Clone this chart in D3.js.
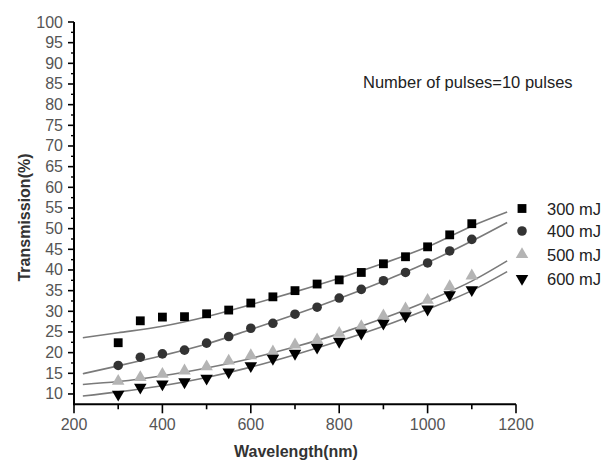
<!DOCTYPE html>
<html><head><meta charset="utf-8">
<script src="https://cdn.jsdelivr.net/npm/d3@7"></script>
<style>body{margin:0;background:#fff}svg{display:block;font-family:Arial,"Liberation Sans",sans-serif}</style>
</head><body><svg id="c" width="603" height="462"></svg>
<script>
// ---- data ----
const wavelengths = [300,350,400,450,500,550,600,650,700,750,800,850,900,950,1000,1050,1100];
const t300 = [22.4,27.7,28.6,28.7,29.4,30.3,32.0,33.5,35.0,36.6,37.6,39.4,41.5,43.2,45.6,48.5,51.2];
const t400 = [16.9,18.9,19.7,20.6,22.3,23.9,25.9,27.1,29.3,31.0,33.2,35.3,37.4,39.4,41.7,44.6,47.4];
const t500 = [13.1,14.0,14.8,15.6,16.6,18.0,19.3,20.2,21.9,23.1,24.7,26.3,28.9,30.6,32.7,36.0,38.6];
const t600 = [9.9,11.6,12.4,12.9,13.8,15.3,16.8,18.6,19.8,21.3,22.7,24.7,27.1,28.9,30.5,34.0,35.2];
const fitX = [220,300,400,500,600,700,800,900,1000,1100,1180];
const fit300 = [23.6,24.8,26.4,28.7,31.6,34.7,38.0,41.6,45.6,50.6,54.0];
const fit400 = [14.9,16.8,19.3,22.1,25.6,29.2,33.1,37.3,41.8,47.0,51.5];
const fit500 = [12.3,13.0,14.4,16.3,18.6,21.4,24.6,28.3,32.5,37.3,42.2];
const fit600 = [9.5,10.5,12.0,14.0,16.5,19.5,22.8,26.4,30.5,35.0,39.6];
const seriesNames = ["300 mJ","400 mJ","500 mJ","600 mJ"];
const xTicks = [200,400,600,800,1000,1200];
const xMinor = [300,500,700,900,1100];
const yTicks = d3.range(10,101,5);
const yMinor = d3.range(12.5,100,5);
const titleText = "Number of pulses=10 pulses";

// ---- scales ----
const svg = d3.select("#c");
const x = d3.scaleLinear().domain([200,1200]).range([74,516]);
const y = d3.scaleLinear().domain([7.5,100]).range([404.3,22]);

const series = [
  {name:seriesNames[0], vals:t300, fit:fit300, shape:d3.symbolSquare, size:78, color:"#000"},
  {name:seriesNames[1], vals:t400, fit:fit400, shape:d3.symbolCircle, size:72, color:"#333"},
  {name:seriesNames[2], vals:t500, fit:fit500, shape:d3.symbolTriangle, size:68, color:"#b4b4b4", tri:1},
  {name:seriesNames[3], vals:t600, fit:fit600, shape:d3.symbolTriangle, size:68, color:"#000", tri:-1}
];

const narrow = '"Liberation Sans Narrow","Arial Narrow",Arial,sans-serif';

// ---- axes ----
const ax = svg.append("g").attr("stroke","#000");
ax.append("line").attr("x1",x(200)).attr("x2",x(1200)).attr("y1",y(7.5)).attr("y2",y(7.5)).attr("stroke-width",2);
ax.append("line").attr("x1",x(200)).attr("x2",x(200)).attr("y1",y(7.5)+1).attr("y2",y(100)).attr("stroke-width",2);
xTicks.forEach(v=>ax.append("line").attr("x1",x(v)).attr("x2",x(v)).attr("y1",y(7.5)).attr("y2",y(7.5)+9).attr("stroke-width",1.6));
xMinor.forEach(v=>ax.append("line").attr("x1",x(v)).attr("x2",x(v)).attr("y1",y(7.5)).attr("y2",y(7.5)+5).attr("stroke-width",1.6));
yTicks.forEach(v=>ax.append("line").attr("x1",x(200)).attr("x2",x(200)-6).attr("y1",y(v)).attr("y2",y(v)).attr("stroke-width",1.6));
yMinor.forEach(v=>ax.append("line").attr("x1",x(200)).attr("x2",x(200)-3).attr("y1",y(v)).attr("y2",y(v)).attr("stroke-width",1.4));

svg.append("g").selectAll("text").data(xTicks).join("text")
  .attr("x",d=>x(d)).attr("y",430).attr("text-anchor","middle").style("font-family",narrow)
  .attr("font-size",16).attr("fill","#555").text(d=>d);
svg.append("g").selectAll("text").data(yTicks).join("text")
  .attr("x",63).attr("y",d=>y(d)+5.5).attr("text-anchor","end").style("font-family",narrow)
  .attr("font-size",16).attr("fill","#555").text(d=>d);

svg.append("text").attr("x",296).attr("y",457).attr("text-anchor","middle")
  .attr("font-size",16).attr("font-weight","bold").attr("fill","#333").text("Wavelength(nm)");
svg.append("text").attr("transform","translate(30,217.5) rotate(-90)").attr("text-anchor","middle")
  .attr("font-size",16).attr("font-weight","bold").attr("fill","#333").text("Transmission(%)");

svg.append("text").attr("x",363).attr("y",88).attr("font-size",16.5).attr("fill","#222").text(titleText);

// ---- fits ----
const line = d3.line().x((d,i)=>x(fitX[i])).y(d=>y(d)).curve(d3.curveMonotoneX);
svg.append("g").selectAll("path").data(series).join("path")
  .attr("d",d=>line(d.fit)).attr("fill","none").attr("stroke","#7a7a7a").attr("stroke-width",1.6);

// ---- markers ----
function sym(s){ return d3.symbol().type(s.shape).size(s.size)(); }
series.forEach(s=>{
  svg.append("g").selectAll("path").data(s.vals).join("path")
    .attr("d",sym(s))
    .attr("transform",(d,i)=>`translate(${x(wavelengths[i])},${y(d)})${s.tri===-1?" rotate(180)":""}`)
    .attr("fill",s.color);
});

// ---- legend ----
const legY = [208.5,231,254.5,278.5];
series.forEach((s,i)=>{
  svg.append("path").attr("d",sym(s))
    .attr("transform",`translate(522,${legY[i]})${s.tri===-1?" rotate(180)":""}`)
    .attr("fill",s.color);
  svg.append("text").attr("x",547).attr("y",legY[i]+6).attr("font-size",16.5).attr("fill","#222").text(s.name);
});
</script></body></html>
